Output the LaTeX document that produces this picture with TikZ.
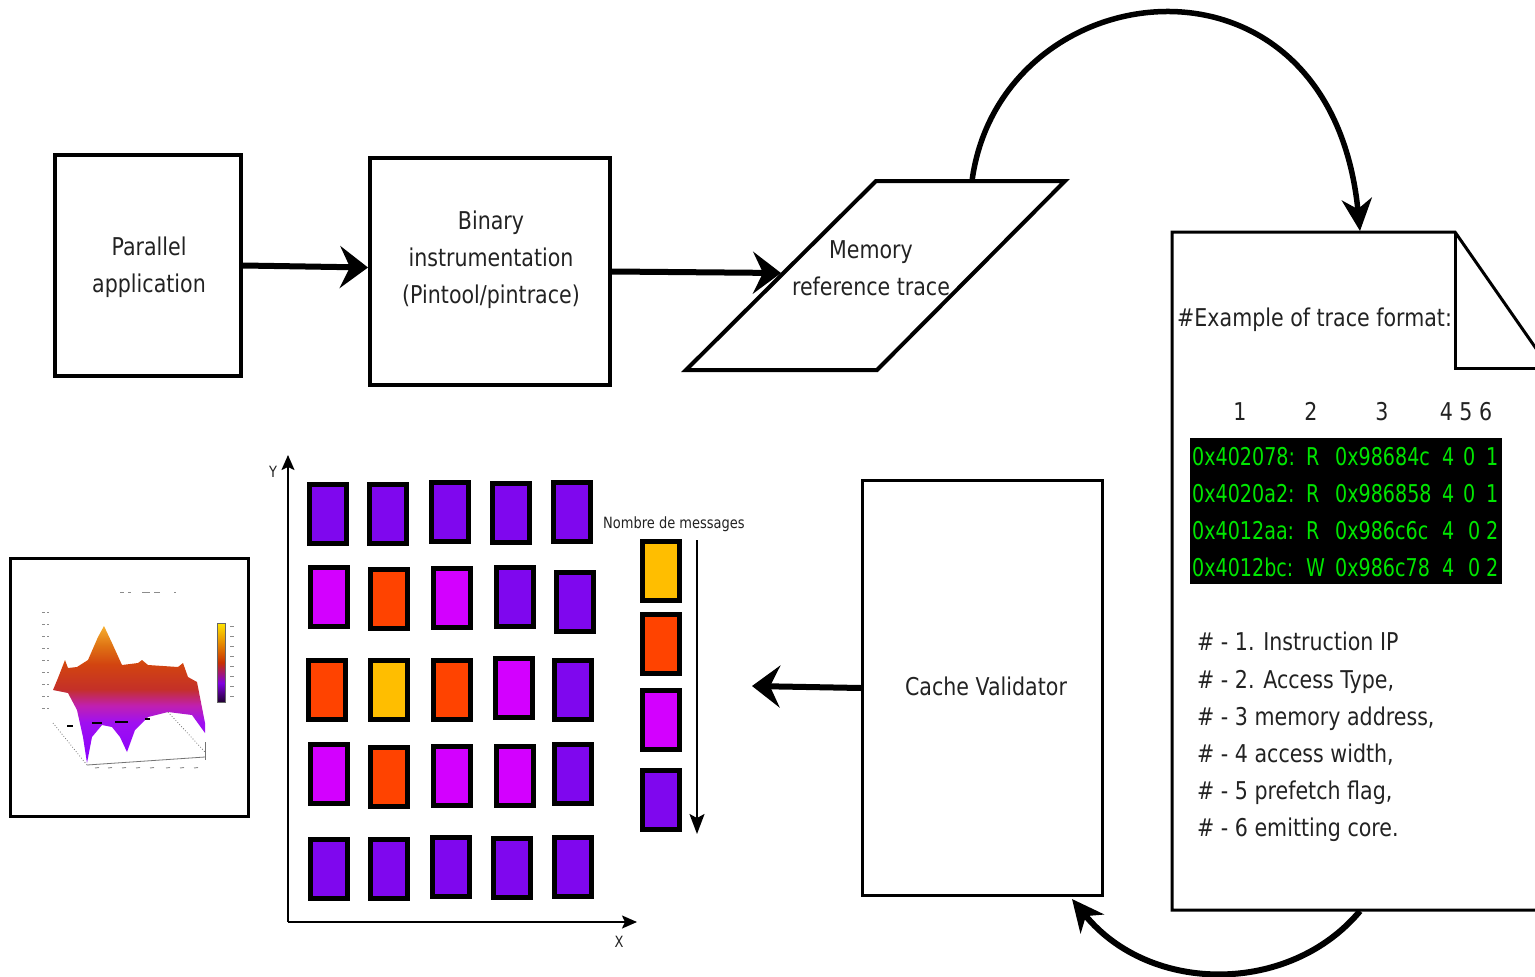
\documentclass[tikz,border=0pt]{standalone}
\usepackage{fontspec}
\setmainfont{DejaVu Sans}[FakeStretch=0.84]
\newfontfamily\tracefont{DejaVu Sans}[FakeStretch=0.78]
\usetikzlibrary{arrows.meta,calc}

\definecolor{cpurple}{HTML}{7F07EE}
\definecolor{cmagenta}{HTML}{D300FF}
\definecolor{cred}{HTML}{FF4300}
\definecolor{corange}{HTML}{FFBE00}
\definecolor{tgreen}{HTML}{00E600}
\definecolor{ink}{HTML}{222222}
\definecolor{sfA}{HTML}{8A00FF}
\definecolor{sfB}{HTML}{A010F0}
\definecolor{sfC}{HTML}{C020B0}
\definecolor{sfD}{HTML}{C43028}
\definecolor{sfE}{HTML}{D24410}
\definecolor{sfF}{HTML}{E07414}
\definecolor{sfG}{HTML}{F6B030}
\definecolor{cbA}{HTML}{200030}
\definecolor{cbB}{HTML}{8000E0}
\definecolor{cbC}{HTML}{C83000}
\definecolor{cbD}{HTML}{E89000}
\definecolor{cbE}{HTML}{FFE400}

% colour ramp of the surface plot (bottom to top)
\pgfdeclareverticalshading{surfaceramp}{100bp}{%
  color(0bp)=(sfA); color(25bp)=(sfA); color(40bp)=(sfB); color(46bp)=(sfC);
  color(52bp)=(sfD); color(61bp)=(sfE); color(68bp)=(sfF); color(75bp)=(sfG);
  color(100bp)=(sfG)}
% colour bar of the surface plot
\pgfdeclareverticalshading{barramp}{100bp}{%
  color(0bp)=(cbA); color(25bp)=(cbA); color(37bp)=(cbB); color(50bp)=(cbC);
  color(63bp)=(cbD); color(75bp)=(cbE); color(100bp)=(cbE)}

\begin{document}
\begin{tikzpicture}[x=1pt,y=-1pt,
  box/.style={draw=black, line width=4pt, inner sep=0pt},
  lbl/.style={font=\fontsize{24.5}{37}\selectfont, text=ink, align=center, inner sep=0pt},
  note/.style={font=\fontsize{24.5}{37}\selectfont, text=ink, anchor=base west, inner sep=0pt},
  trace/.style={font=\tracefont\fontsize{24.5}{37}\selectfont, text=tgreen, anchor=base west, inner sep=0pt},
  small/.style={font=\fontsize{15.5}{18}\selectfont, text=ink, inner sep=0pt},
  flow/.style={line width=6pt, -{Stealth[length=28pt,width=42pt,inset=10pt]}},
  loop/.style={line width=5.5pt, -{Stealth[length=32pt,width=30pt,inset=10pt]}},
  axis/.style={line width=1.8pt, -{Stealth[length=15pt,width=13pt,inset=3pt]}},
  cell/.style={draw=black, line width=5pt},
  speck/.style={draw=black!45, line width=0.9pt}
]
\useasboundingbox (0,0) rectangle (1535,977);
\clip (0,0) rectangle (1535,977);

% ---------- top row: application -> instrumentation -> trace ----------
\node[box, minimum width=186pt, minimum height=221pt] (app) at (148,265.5) {};
\node[lbl] (app-text) at (149,267) {Parallel\\application};

\node[box, minimum width=240pt, minimum height=227pt] (pin) at (490,271.5) {};
\node[lbl] (pin-text) at (491,260) {Binary\\instrumentation\\(Pintool/pintrace)};

\coordinate (p1) at (686,370);
\coordinate (p2) at (876,181);
\coordinate (p3) at (1065,181);
\coordinate (p4) at (877,370);
\draw[line width=4pt] (p1) -- (p2) -- (p3) -- (p4) -- cycle;
\node[lbl] (trace-text) at (871,268) {Memory\\reference trace};
\coordinate (trace-in) at (781,273);
\coordinate (trace-top) at (972,181);
\coordinate (pin-in) at ($(pin.west)+(0,-4)$);

\draw[flow] (app.east) -- (pin-in);
\draw[flow] (pin.east) -- (trace-in);

% ---------- trace file (page with folded corner) ----------
\draw[line width=3pt, fill=white, line join=miter]
  (1172,910) -- (1172,232) -- (1455,232) -- (1550,368.6) -- (1550,910) -- cycle;
\draw[line width=3pt] (1455,232) -- (1455,368) -- (1550,368);
\coordinate (doc-in) at (1360,231);
\coordinate (doc-out) at (1360,911);

\draw[loop] (trace-top) .. controls (1000,-30) and (1330,-70) .. (doc-in);

\node[note] (fmt) at (1177,326) {\#Example of trace format:};
\node[lbl, anchor=base] (c1) at (1240,420) {1};
\node[lbl, anchor=base] (c2) at (1311,420) {2};
\node[lbl, anchor=base] (c3) at (1382,420) {3};
\node[lbl, anchor=base] (c456) at (1466,420) {4 5 6};

\fill[black] (1190,438) rectangle (1502,584);
% one trace record per row: address, access, memory address, width, prefetch, core
\foreach \ry/\rIp/\rAcc/\rAddr/\rWid/\rPf/\rCore/\rPx in {
    465/0x402078:/R/0x98684c/4/0/1/1463,
    502/0x4020a2:/R/0x986858/4/0/1/1463,
    539/0x4012aa:/R/0x986c6c/4/0/2/1468,
    576/0x4012bc:/W/0x986c78/4/0/2/1468} {
  \node[trace] (ip-\ry) at (1192,\ry) {\rIp};
  \node[trace] (acc-\ry) at (1306,\ry) {\rAcc};
  \node[trace] (addr-\ry) at (1335,\ry) {\rAddr};
  \node[trace] (wid-\ry) at (1442,\ry) {\rWid};
  \node[trace] (pf-\ry) at (\rPx,\ry) {\rPf};
  \node[trace] (core-\ry) at (1486,\ry) {\rCore};
}

\node[note] (n1) at (1197,650) {\# - 1. Instruction IP};
\node[note] (n2) at (1197,688) {\# - 2. Access Type,};
\node[note] (n3) at (1197,725) {\# - 3 memory address,};
\node[note] (n4) at (1197,762) {\# - 4 access width,};
\node[note] (n5) at (1197,799) {\# - 5 prefetch flag,};
\node[note] (n6) at (1197,836) {\# - 6 emitting core.};

% ---------- cache validator ----------
\node[box, line width=3pt, minimum width=240pt, minimum height=415pt] (cv) at (982.5,688) {};
\node[lbl] (cv-text) at (986,686) {Cache Validator};
\coordinate (cv-in) at (1072,899);
\coordinate (grid-in) at (752,686);

\draw[loop, line width=6pt] (doc-out) .. controls (1290,995) and (1150,995) .. (cv-in);
\draw[flow] (cv.west) -- (grid-in);

% ---------- message matrix ----------
\coordinate (origin) at (288,922);
\coordinate (ytip) at (288,455);
\coordinate (xtip) at (637,922);
\draw[axis] (origin) -- (ytip);
\draw[axis] (origin) -- (xtip);
\node[small] (ylab) at (273,472) {Y};
\node[small] (xlab) at (619,942) {X};

\foreach \x/\y/\c in {
  307/482/cpurple, 367/482/cpurple, 429/480/cpurple, 490/481/cpurple, 551/480/cpurple,
  308/565/cmagenta, 368/567/cred, 431/566/cmagenta, 494/565/cpurple, 554/570/cpurple,
  306/658/cred, 368/658/corange, 431/658/cred, 493/656/cmagenta, 552/658/cpurple,
  308/742/cmagenta, 368/745/cred, 431/744/cmagenta, 494/744/cmagenta, 552/742/cpurple,
  308/837/cpurple, 368/837/cpurple, 430/835/cpurple, 491/836/cpurple, 552/835/cpurple}
  \draw[cell, fill=\c] (\x+2.5,\y+2.5) rectangle (\x+39.5,\y+61.5);

% legend of the matrix
\node[small] (legend) at (674,524) {Nombre de messages};
\foreach \y/\c in {539/corange, 612/cred, 688/cmagenta, 768/cpurple}
  \draw[cell, fill=\c] (642.5,\y+2.5) rectangle (679.5,\y+61.5);
\coordinate (scale-top) at (697,540);
\coordinate (scale-bottom) at (697,834);
\draw[axis, -{Stealth[length=20pt,width=15pt,inset=4pt]}] (scale-top) -- (scale-bottom);

% ---------- surface plot thumbnail ----------
\node[box, line width=3pt, minimum width=238pt, minimum height=258pt] (plot) at (129.5,687.5) {};

% floor grid of the plot
\draw[black!55, line width=0.8pt, dotted] (53,723) -- (87,765);
\draw[black!55, line width=0.8pt, dotted] (168,712) -- (205,752);
\draw[black!55, line width=0.8pt] (87,765) -- (205,757);
\draw[black!55, line width=0.8pt] (205,742) -- (205,760);

% surface
\shade[shading=surfaceramp]
  (53,690) -- (58,678) -- (65,660) -- (68,668) -- (77,667) -- (88,660) --
  (98,637) -- (104,626) -- (112,643) -- (122,665) -- (138,663) -- (142,660) --
  (148,665) -- (178,667) -- (183,663) -- (188,677) -- (197,682) -- (205,723) --
  (205,733) -- (192,715) -- (168,712) -- (148,717) -- (135,730) -- (127,752) --
  (120,737) -- (112,727) -- (102,725) -- (92,737) -- (87,763) -- (83,737) --
  (77,710) -- (68,693) -- cycle;

% contour dashes on the floor
\draw[black, line width=1.6pt] (67,726) -- (73,726);
\draw[black, line width=1.6pt] (92,723) -- (102,723);
\draw[black, line width=1.6pt] (115,722) -- (128,722);
\draw[black, line width=1.6pt] (145,719) -- (150,719);

% colour bar
\shade[shading=barramp] (217,623) rectangle (225,702);
\draw[black!60, line width=0.5pt] (217,623) rectangle (225,702);

% tick marks of the axes
\foreach \y in {612,624,636,648,660,672,684,696,708}
  \draw[speck] (42,\y) -- (45,\y) (47,\y) -- (48.5,\y);
\foreach \y in {626,636,646,656,666,676,686,696}
  \draw[speck] (230,\y) -- (234,\y);
\foreach \x in {95,108,122,136,150,166,180,194}
  \draw[speck] (\x,768) -- (\x+4,767.5);
\draw[speck] (120,592) -- (124,592) (128,592) -- (131,592) (142,592) -- (150,592) (154,592) -- (160,592) (174,592) -- (176,592);
\end{tikzpicture}
\end{document}
